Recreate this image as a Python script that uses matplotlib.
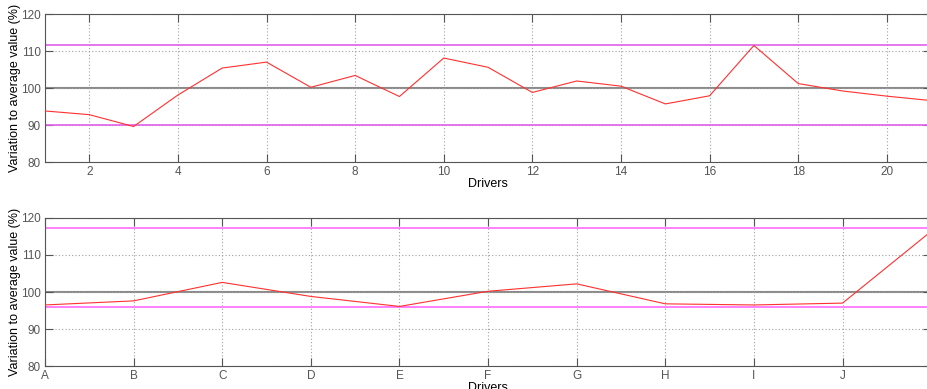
import numpy as np
import matplotlib
matplotlib.use("Agg")
import matplotlib.pyplot as plt

# top chart: drivers 1..21
top_x = np.arange(1, 22)
top_y = [93.8, 92.8, 89.6, 98.1, 105.4, 107.0, 100.2, 103.4, 97.7, 108.1, 105.6,
         98.8, 101.9, 100.5, 95.7, 97.9, 111.5, 101.2, 99.2, 97.8, 96.6]
top_limits = [111.6, 89.9]
top_xticks = [2, 4, 6, 8, 10, 12, 14, 16, 18, 20]

# bottom chart: drivers A..J (+ trailing point)
bot_labels = ["A", "B", "C", "D", "E", "F", "G", "H", "I", "J"]
bot_y = [96.5, 97.6, 102.6, 98.8, 96.1, 100.2, 102.2, 96.8, 96.5, 97.0, 116.4]
bot_limits = [117.2, 96.0]

yticks = [80, 90, 100, 110, 120]

plt.rcParams['font.family'] = ['Liberation Sans', 'DejaVu Sans']

fig = plt.figure(figsize=(9.27, 3.89), dpi=100)
ax1 = fig.add_axes([0.0485, 0.5835, 0.956, 0.3805])
ax2 = fig.add_axes([0.0485, 0.0591, 0.956, 0.3805])


def style(ax):
    ax.set_ylim(80, 120)
    ax.set_yticks(yticks)
    ax.grid(True, linestyle=(0, (1, 2)), color='#a0a0a0', linewidth=0.8)
    ax.axhline(100, color='#8a8a8a', linewidth=1.5, zorder=1)
    ax.tick_params(direction='in', top=True, right=True, length=6,
                   color='#555555', labelcolor='#555555', labelsize=8.5, pad=3)
    for s in ax.spines.values():
        s.set_color('#555555')
    ax.set_ylabel("Variation to average value (%)", fontsize=9, labelpad=0)
    ax.set_xlabel("Drivers", fontsize=9, labelpad=0)


# top
style(ax1)
ax1.plot(top_x, top_y, color='#ff3030', linewidth=0.8, zorder=3)
for v in top_limits:
    ax1.axhline(v, color='#e060e8', linewidth=1.2, zorder=2)
ax1.set_xlim(1, 21)
ax1.set_xticks(top_xticks)

# bottom
style(ax2)
bx = np.arange(1, len(bot_y) + 1)
ax2.plot(bx, bot_y, color='#ff3030', linewidth=0.8, zorder=3)
for v in bot_limits:
    ax2.axhline(v, color='#ff80ff', linewidth=1.4, zorder=2)
ax2.set_xlim(1, 11)
ax2.set_xticks(np.arange(1, len(bot_labels) + 1))
ax2.set_xticklabels(bot_labels)

fig.savefig("out.png", dpi=100)
